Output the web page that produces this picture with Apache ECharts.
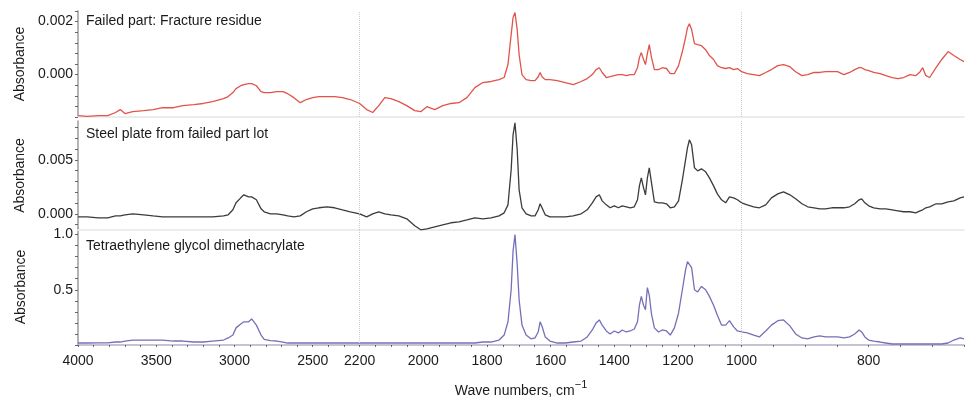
<!DOCTYPE html>
<html>
<head>
<meta charset="utf-8">
<script src="https://cdn.jsdelivr.net/npm/echarts@6/dist/echarts.min.js"></script>
<style>
  html, body { margin: 0; padding: 0; background: #fff; }
  #graficoEspectros { width: 967px; height: 401px; }
</style>
</head>
<body>
<div id="graficoEspectros"></div>
<script>
// numeros de onda (cm-1), compartidos por los tres espectros
const numerosOnda = [
  4000, 3940, 3870, 3810, 3760, 3730, 3700, 3650, 3580, 3520, 3460, 3390, 3330, 3260, 3200, 3140, 3070, 3040, 3010, 2990,
  2960, 2940, 2910, 2890, 2860, 2830, 2810, 2770, 2730, 2690, 2660, 2620, 2580, 2540, 2500, 2460, 2410, 2360, 2310, 2260, 2200,
  2178, 2159, 2140, 2121, 2102, 2077, 2052, 2027, 2008, 1989, 1964, 1939, 1913, 1888, 1863, 1838, 1813, 1787, 1762, 1746,
  1734, 1724, 1718, 1712, 1705, 1699, 1690, 1677, 1661, 1649, 1639, 1633, 1627, 1617, 1602, 1579, 1554, 1529, 1504, 1485,
  1469, 1457, 1447, 1438, 1425, 1413, 1400, 1387, 1375, 1362, 1350, 1337, 1327, 1321, 1315, 1308, 1302, 1296, 1290, 1283,
  1274, 1261, 1249, 1236, 1224, 1211, 1198, 1186, 1176, 1170, 1164, 1157, 1148, 1138, 1126, 1113, 1101, 1088, 1076, 1063,
  1050, 1038, 1025, 1013, 1000,
  991, 981, 972, 962, 953, 943, 934, 924, 915, 905, 896, 886, 877, 868, 858, 849, 839, 830, 822, 815,
  811, 806, 800, 792, 782, 773, 763, 754, 745, 735, 726, 719, 715, 710, 704, 694, 685, 675, 666, 656, 650
];

// Failed part: Fracture residue (absorbancia x 0.001)
const residuoFractura = [
  -1.55, -1.58, -1.55, -1.55, -1.43, -1.32, -1.47, -1.40, -1.36, -1.32, -1.25, -1.25, -1.17, -1.13, -1.09, -1.02, -0.91, -0.83, -0.68, -0.53,
  -0.42, -0.38, -0.34, -0.34, -0.42, -0.64, -0.68, -0.68, -0.64, -0.64, -0.72, -0.87, -1.06, -0.94, -0.87, -0.83, -0.83, -0.83, -0.87, -0.94, -1.09,
  -1.32, -1.43, -1.17, -0.87, -0.91, -1.02, -1.17, -1.36, -1.40, -1.21, -1.32, -1.17, -1.09, -1.06, -0.87, -0.49, -0.30, -0.26, -0.19, -0.11,
  0.38, 1.51, 2.15, 2.34, 1.70, 0.75, 0, -0.19, -0.23, -0.23, -0.08, 0.08, -0.08, -0.19, -0.19, -0.23, -0.30, -0.38, -0.26, -0.15,
  0, 0.19, 0.26, 0.08, -0.11, -0.08, -0.04, 0, 0, -0.04, 0, 0, 0.26, 0.64, 0.83, 0.57, 0.38, 0.79, 1.13, 0.64,
  0.19, 0.19, 0.26, 0.23, 0.04, 0.04, 0.34, 0.87, 1.40, 1.77, 1.92, 1.70, 1.17, 1.13, 1.09, 0.94, 0.72, 0.57, 0.34, 0.26,
  0.23, 0.26, 0.19, 0.23, 0.11,
  0.04, 0, -0.04, 0.08, 0.19, 0.34, 0.38, 0.30, 0.11, -0.04, 0, 0.08, 0.08, 0.11, 0.11, 0.11, 0, 0.08, 0.19, 0.26,
  0.26, 0.19, 0.15, 0.08, 0.04, -0.04, -0.11, -0.15, -0.11, 0, -0.04, 0.11, 0.26, -0.04, -0.11, 0.26, 0.57, 0.87, 0.72, 0.57, 0.49
];

// Steel plate from failed part lot (absorbancia x 0.001)
const placaAcero = [
  -0.28, -0.28, -0.37, -0.37, -0.19, -0.19, -0.09, 0, -0.09, -0.19, -0.28, -0.28, -0.28, -0.28, -0.28, -0.28, -0.19, -0.09, 0.37, 1.02,
  1.48, 1.76, 1.57, 1.57, 1.30, 0.46, 0.19, 0, 0, -0.09, -0.19, -0.28, -0.19, 0.19, 0.46, 0.56, 0.65, 0.56, 0.37, 0.19, 0,
  -0.28, 0, 0.19, 0, -0.09, -0.19, -0.46, -1.11, -1.48, -1.39, -1.20, -1.02, -0.83, -0.74, -0.56, -0.37, -0.46, -0.37, -0.19, 0.09,
  0.83, 4.07, 7.31, 8.43, 5.93, 2.22, 0.56, 0, -0.19, -0.19, 0.37, 0.93, 0.56, -0.09, -0.28, -0.28, -0.28, -0.19, 0, 0.37,
  1.02, 1.57, 1.76, 1.20, 0.83, 0.56, 0.74, 0.56, 0.74, 0.65, 0.56, 0.65, 1.30, 2.59, 3.33, 2.41, 1.76, 3.33, 4.26, 2.87,
  1.11, 1.02, 1.02, 0.93, 0.56, 0.65, 1.20, 3.15, 5.00, 6.11, 6.85, 6.39, 4.26, 3.98, 4.17, 3.89, 3.33, 2.59, 1.85, 1.30,
  1.02, 1.57, 1.48, 1.30, 1.02,
  0.83, 0.65, 0.56, 0.83, 1.48, 1.85, 2.04, 1.76, 1.39, 0.93, 0.65, 0.56, 0.46, 0.46, 0.56, 0.56, 0.56, 0.65, 0.93, 1.30,
  1.39, 1.02, 0.74, 0.56, 0.46, 0.46, 0.37, 0.28, 0.19, 0.19, 0.09, 0.28, 0.37, 0.56, 0.65, 0.93, 0.93, 1.11, 1.20, 1.48, 1.57
];

// Tetraethylene glycol dimethacrylate (absorbancia)
const tegdma = [
  0.018, 0.018, 0.020, 0.020, 0.027, 0.027, 0.036, 0.045, 0.045, 0.045, 0.045, 0.036, 0.036, 0.027, 0.027, 0.036, 0.045, 0.064, 0.090, 0.155,
  0.190, 0.210, 0.210, 0.236, 0.180, 0.090, 0.050, 0.040, 0.036, 0.027, 0.018, 0.018, 0.018, 0.018, 0.018, 0.018, 0.018, 0.018, 0.018, 0.018, 0.018,
  0.018, 0.018, 0.018, 0.018, 0.018, 0.018, 0.018, 0.018, 0.018, 0.018, 0.018, 0.018, 0.018, 0.018, 0.018, 0.018, 0.027, 0.027, 0.045, 0.090,
  0.210, 0.500, 0.850, 1.000, 0.730, 0.410, 0.180, 0.090, 0.055, 0.064, 0.118, 0.210, 0.170, 0.073, 0.036, 0.018, 0.018, 0.027, 0.036, 0.073,
  0.136, 0.200, 0.227, 0.180, 0.127, 0.100, 0.127, 0.109, 0.136, 0.118, 0.127, 0.145, 0.210, 0.360, 0.440, 0.360, 0.320, 0.520, 0.450, 0.280,
  0.155, 0.118, 0.136, 0.127, 0.090, 0.155, 0.290, 0.500, 0.680, 0.755, 0.770, 0.700, 0.500, 0.480, 0.530, 0.500, 0.440, 0.360, 0.270, 0.180,
  0.180, 0.220, 0.164, 0.127, 0.118,
  0.109, 0.090, 0.073, 0.127, 0.180, 0.220, 0.227, 0.173, 0.100, 0.064, 0.055, 0.073, 0.082, 0.073, 0.073, 0.073, 0.064, 0.073, 0.100, 0.136,
  0.118, 0.073, 0.045, 0.036, 0.027, 0.018, 0.009, 0.009, 0.009, 0.009, 0.009, 0.009, 0.009, 0.009, 0.009, 0.009, 0.009, 0.018, 0.045, 0.064, 0.055
];

const etiquetasX = [4000, 3500, 3000, 2500, 2200, 2000, 1800, 1600, 1400, 1200, 1000, 800];
const cortesEscala = [2200, 1000];
const marcasY1 = [-0.0016, -0.0012, -0.0008, -0.0004, 0, 0.0004, 0.0008, 0.0012, 0.0016, 0.002, 0.0024];
const etiquetasY1 = [0, 0.002];
const marcasY2 = [-0.001, 0, 0.001, 0.002, 0.003, 0.004, 0.005, 0.006, 0.007, 0.008];
const etiquetasY2 = [0, 0.005];
const marcasY3 = [0, 0.1, 0.2, 0.3, 0.4, 0.5, 0.6, 0.7, 0.8, 0.9, 1.0];
const etiquetasY3 = [0.5, 1.0];

// el eje x cambia de escala en 2200 y en 1000 cm-1
function posicion(n) {
  if (n >= 2200) return (4000 - n) * 0.1561;
  if (n >= 1000) return 281 + (2200 - n) * 0.3175;
  return 662 + (1000 - n) * 0.634;
}
function numeroOnda(p) {
  if (p <= 281.01) return 4000 - p / 0.1561;
  if (p <= 662.01) return 2200 - (p - 281) / 0.3175;
  return 1000 - (p - 662) / 0.634;
}

const marcasX = [];
for (let n = 4000; n > 2200; n -= 100) marcasX.push(posicion(n));
for (let n = 2200; n >= 650; n -= 50) marcasX.push(posicion(n));

const fuente = "'Liberation Sans', Arial, sans-serif";
const xMax = posicion(650);

const contenedor = document.getElementById("graficoEspectros");
const grafico = echarts.init(contenedor);

function ejeX(indice, ultimo) {
  return {
    type: "value",
    gridIndex: indice,
    min: 0,
    max: xMax,
    name: ultimo ? "Wave numbers, cm{sup|\u22121}" : "",
    nameLocation: "middle",
    nameGap: 34,
    nameTextStyle: {
      fontFamily: fuente, fontSize: 14, color: "#1a1a1a",
      rich: { sup: { fontFamily: fuente, fontSize: 11, color: "#1a1a1a", padding: [0, 0, 14, 0] } }
    },
    axisLine: { show: true, onZero: false, lineStyle: { color: ultimo ? "#b4b1c6" : "#ececec", width: ultimo ? 1.5 : 2 } },
    axisTick: { show: ultimo, customValues: marcasX, length: 2, lineStyle: { color: "#666" } },
    axisLabel: {
      show: ultimo,
      customValues: etiquetasX.map(posicion),
      margin: 9,
      fontFamily: fuente, fontSize: 14, color: "#1a1a1a",
      formatter: v => String(Math.round(numeroOnda(v)))
    },
    splitLine: { show: false }
  };
}

function ejeY(indice, min, max, marcas, etiquetas, decimales) {
  return {
    type: "value",
    gridIndex: indice,
    min: min,
    max: max,
    name: "Absorbance",
    nameLocation: "middle",
    nameGap: 50,
    nameTextStyle: { fontFamily: fuente, fontSize: 14, color: "#1a1a1a" },
    axisLine: { show: true, lineStyle: { color: "#9a9a9a", width: 1.5 } },
    axisTick: { show: true, customValues: marcas, length: 3, lineStyle: { color: "#666" } },
    axisLabel: {
      customValues: etiquetas,
      margin: 5,
      fontFamily: fuente, fontSize: 14, color: "#1a1a1a",
      formatter: v => Math.abs(v) < 1e-9 ? (0).toFixed(decimales) : v.toFixed(decimales)
    },
    splitLine: { show: false }
  };
}

function serie(indice, valores, escala, color) {
  return {
    type: "line",
    xAxisIndex: indice,
    yAxisIndex: indice,
    data: numerosOnda.map((n, i) => [posicion(n), valores[i] * escala]),
    showSymbol: false,
    lineStyle: { color: color, width: 1.3 },
    itemStyle: { color: color },
    markLine: {
      silent: true,
      symbol: "none",
      label: { show: false },
      lineStyle: { color: "#cdcdcd", type: "dotted", width: 1 },
      data: cortesEscala.map(n => ({ xAxis: posicion(n) }))
    }
  };
}

const opciones = {
  animation: false,
  backgroundColor: "#fff",
  title: [
    { text: "Failed part: Fracture residue", left: 86, top: 14 },
    { text: "Steel plate from failed part lot", left: 86, top: 127 },
    { text: "Tetraethylene glycol dimethacrylate", left: 86, top: 239 }
  ].map(t => Object.assign(t, {
    padding: 0,
    textStyle: { fontFamily: fuente, fontSize: 14, fontWeight: "normal", color: "#1a1a1a" }
  })),
  grid: [
    { left: 78, right: 3, top: 11, height: 106 },
    { left: 78, right: 3, top: 121, height: 109 },
    { left: 78, right: 3, top: 229, height: 116 }
  ],
  xAxis: [ejeX(0, false), ejeX(1, false), ejeX(2, true)],
  yAxis: [
    ejeY(0, -0.0016, 0.0024, marcasY1, etiquetasY1, 3),
    ejeY(1, -0.0015, 0.0086, marcasY2, etiquetasY2, 3),
    ejeY(2, 0, 1.05, marcasY3, etiquetasY3, 1)
  ],
  series: [
    serie(0, residuoFractura, 0.001, "#e0544b"),
    serie(1, placaAcero, 0.001, "#3d3b3b"),
    serie(2, tegdma, 1, "#7470b8")
  ]
};

grafico.setOption(opciones);
</script>
</body>
</html>
